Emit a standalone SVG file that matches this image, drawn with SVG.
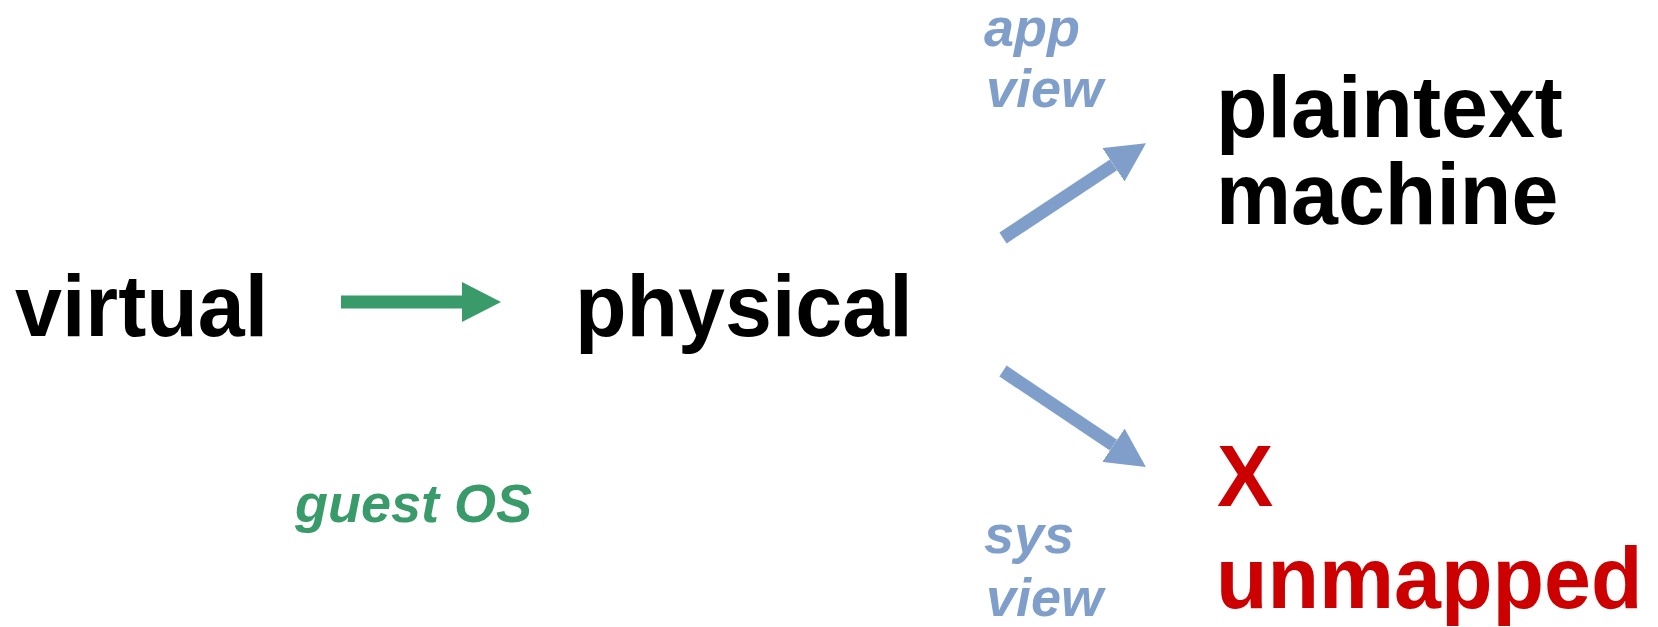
<svg xmlns="http://www.w3.org/2000/svg" width="1658" height="627" viewBox="0 0 1658 627">
  <style>
    .node { font-family: "Liberation Sans", Arial, Helvetica, sans-serif; font-weight: bold; font-size: 87px; fill: #000000; }
    .red { fill: #CC0000; }
    .lbl { font-family: "Liberation Sans", Arial, Helvetica, sans-serif; font-weight: bold; font-style: italic; font-size: 54px; }
    .green { fill: #3A9B6A; }
    .blue { fill: #7F9FCA; }
    .gline { stroke: #3A9B6A; stroke-width: 13; fill: none; }
    .bline { stroke: #7F9FCA; stroke-width: 13; fill: none; }
  </style>
  <defs>
    <marker id="headG" viewBox="0 0 39 40" refX="0" refY="20" markerWidth="39" markerHeight="40" markerUnits="userSpaceOnUse" orient="auto">
      <path d="M0,0 L39,20 L0,40 Z" fill="#3A9B6A"/>
    </marker>
    <marker id="headB" viewBox="0 0 39 40" refX="0" refY="20" markerWidth="39" markerHeight="40" markerUnits="userSpaceOnUse" orient="auto">
      <path d="M0,0 L39,20 L0,40 Z" fill="#7F9FCA"/>
    </marker>
  </defs>
  <rect width="1658" height="627" fill="#FFFFFF"/>

  <g id="connectors">
    <line class="gline" x1="341" y1="302" x2="462" y2="302" marker-end="url(#headG)"/>
    <line class="bline" x1="1003" y1="238" x2="1113.5" y2="164.8" marker-end="url(#headB)"/>
    <line class="bline" x1="1003" y1="371" x2="1113.5" y2="445.2" marker-end="url(#headB)"/>
    <text class="lbl green" x="295" y="522">guest OS</text>
    <text class="lbl blue" x="984" y="46">app</text>
    <text class="lbl blue" x="986" y="107">view</text>
    <text class="lbl blue" x="984" y="553">sys</text>
    <text class="lbl blue" x="986" y="616">view</text>
  </g>

  <g id="virtual">
    <text class="node" transform="translate(15,336) scale(0.97,1)">virtual</text>
  </g>
  <g id="physical">
    <text class="node" transform="translate(575,336) scale(0.97,1)">physical</text>
  </g>
  <g id="plaintext-machine">
    <text class="node" transform="translate(1216,137) scale(0.97,1)">plaintext</text>
    <text class="node" transform="translate(1216,224) scale(0.97,1)">machine</text>
  </g>
  <g id="unmapped">
    <text class="node red" transform="translate(1217,506) scale(0.97,1)">X</text>
    <text class="node red" transform="translate(1216,608) scale(0.97,1)">unmapped</text>
  </g>
</svg>
